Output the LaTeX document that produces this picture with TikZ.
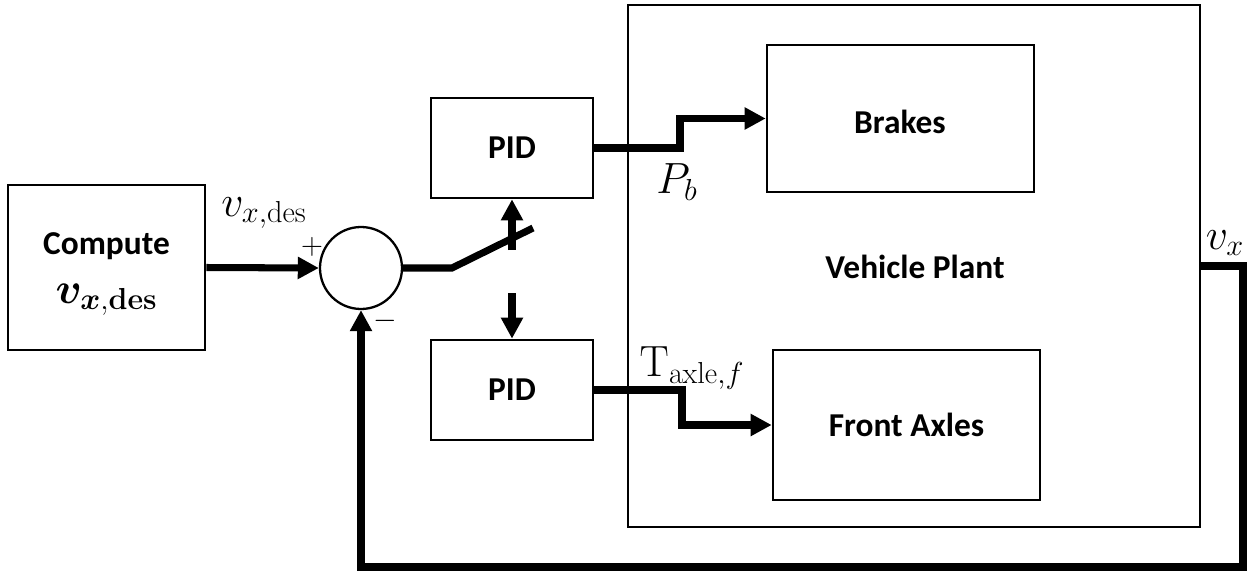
\documentclass[tikz,border=0pt]{standalone}
\usepackage{amsmath,bm}
\usepackage[no-math]{fontspec}
\setmainfont{Carlito}
\usetikzlibrary{arrows.meta,calc}
\begin{document}
\begin{tikzpicture}[x=0.02cm,y=-0.02cm,
  blk/.style={draw,line width=1.5pt,minimum width=#1,inner sep=0pt},
  lbl/.style={font=\fontsize{19}{22}\selectfont\bfseries},
  sig/.style={line width=4pt},
  sigarrow/.style={line width=4pt,-{Triangle[length=12pt,width=12pt]}},
  mlab/.style={font=\fontsize{23}{26}\selectfont,inner sep=0pt},
  slab/.style={font=\fontsize{17}{20}\selectfont,inner sep=0pt}]
\useasboundingbox (0,0) rectangle (1248,575);
\node[blk=197*0.02cm,minimum height=165*0.02cm] (comp) at (106.5,267.5) {};
\node[lbl,align=center] (complab) at (106.5,274) {Compute\\[6pt]\fontsize{23}{26}\selectfont$\bm{v}_{\bm{x},\mathbf{des}}$};
\node[draw,circle,line width=1.3pt,minimum size=82*0.02cm,inner sep=0pt] (sum) at (361,268) {};
\node[blk=162*0.02cm,minimum height=100*0.02cm,lbl] (pidt) at (512,148) {PID};
\node[blk=162*0.02cm,minimum height=100*0.02cm,lbl] (pidb) at (512,390) {PID};
\node[blk=572*0.02cm,minimum height=522*0.02cm] (plant) at (914,266) {};
\node[lbl] (plantlab) at (915,267) {Vehicle Plant};
\node[blk=267*0.02cm,minimum height=147*0.02cm,lbl] (brakes) at (900.5,118.5) {};
\node[lbl] (brakeslab) at (900,122) {Brakes};
\node[blk=267*0.02cm,minimum height=150*0.02cm,lbl] (front) at (906.5,425) {Front Axles};
\coordinate (sw1) at (452,268);
\coordinate (sw2) at (533,228);
\coordinate (upst) at (512,250);
\coordinate (dnst) at (512,293);
\coordinate (bstep) at (680,148);
\coordinate (fstep) at (682,390);
\coordinate (fb) at (1243,567);
\draw[sigarrow] (comp.east) -- (sum.west);
\draw[sig] (sum.east) -- (sw1) -- (sw2);
\draw[sigarrow] (upst) -- (pidt.south);
\draw[sigarrow] (dnst) -- (pidb.north);
\draw[sigarrow] (pidt.east) -- (bstep) |- (brakes.west);
\draw[sigarrow] (pidb.east) -- (fstep) |- (front.west);
\draw[sigarrow] (plant.east) -| (fb) -| (sum.south);
\node[mlab] (vdes) at (264,213) {$v_{x,\mathrm{des}}$};
\node[slab] (plus) at (312,247) {$+$};
\node[slab] (minus) at (385,321) {$-$};
\node[mlab] (pb) at (677,182) {$P_b$};
\node[mlab] (tax) at (692,368) {$\mathrm{T}_{\mathrm{axle},f}$};
\node[mlab] (vx) at (1225,243) {$v_x$};
\end{tikzpicture}
\end{document}
